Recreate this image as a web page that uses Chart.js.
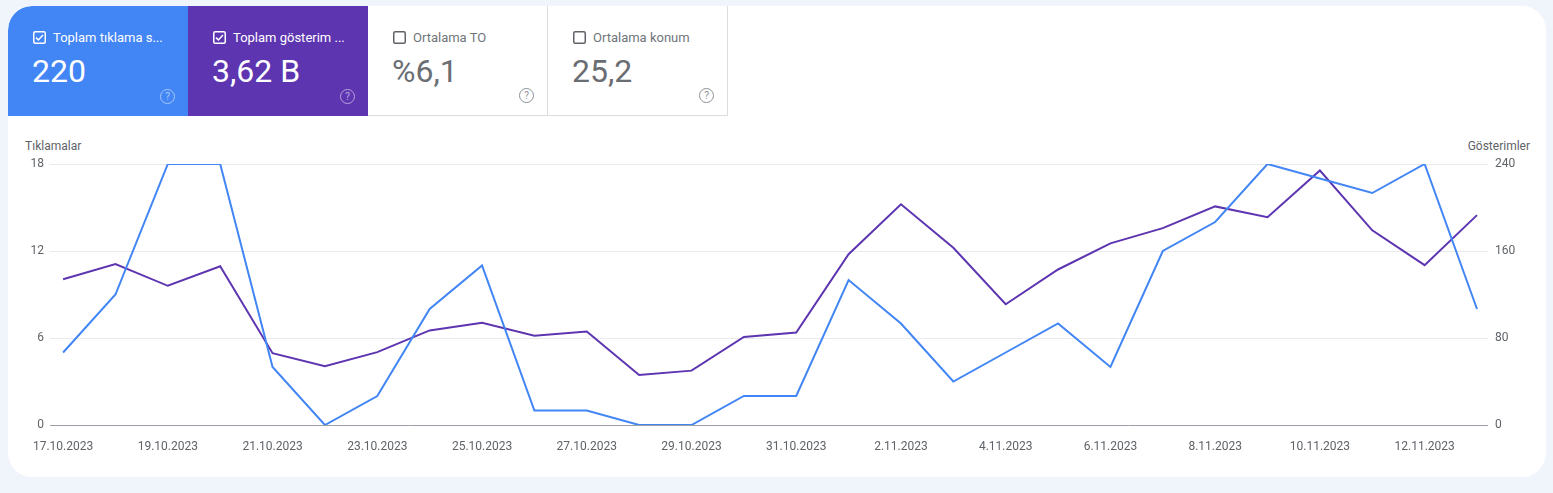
<!DOCTYPE html>
<html lang="tr">
<head>
<meta charset="utf-8">
<title>Performans</title>
<script src="https://cdn.jsdelivr.net/npm/chart.js@4.4.0/dist/chart.umd.min.js"></script>
<style>
  html, body { margin: 0; padding: 0; }
  body {
    width: 1553px; height: 493px; background: #f0f4fb;
    font-family: Roboto, "Noto Sans", sans-serif; position: relative; overflow: hidden;
  }
  .panel {
    position: absolute; left: 8px; top: 6px; width: 1538px; height: 471px;
    background: #fff; border-radius: 24px; overflow: hidden;
  }
  .card {
    position: absolute; top: 0; width: 180px; height: 110px; box-sizing: border-box;
  }
  .card .lbl {
    position: absolute; left: 25px; top: 24px; font-size: 13px; white-space: nowrap;
    display: flex; align-items: center;
  }
  .card .lbl svg { margin-right: 7px; }
  .card .val { position: absolute; left: 24px; top: 46px; font-size: 32px; }
  .card .help {
    position: absolute; right: 13px; bottom: 12px; width: 13px; height: 13px;
    border: 1.5px solid currentColor; border-radius: 50%; font-size: 10px;
    line-height: 13px; text-align: center; opacity: .55;
  }
  .c1 { left: 0; background: #4285f4; color: #fff; border-top-left-radius: 24px; }
  .c2 { left: 180px; background: #5e35b1; color: #fff; }
  .c3, .c4 { background: #fff; color: #70757a; border-right: 1px solid #dadce0; border-bottom: 1px solid #dadce0; }
  .c3 { left: 360px; }
  .c4 { left: 540px; }
  .c3 .val, .c4 .val { color: #6a6e73; }
  .c3 .help, .c4 .help { color: #80868b; opacity: .9; }
  .axt { position: absolute; top: 139px; font-size: 12px; color: #5f6368; }
  #wrap { position: absolute; left: 8px; top: 130px; width: 1538px; height: 340px; }
</style>
</head>
<body>
<div class="panel">
  <div class="card c1"><div class="lbl"><svg width="13" height="13" viewBox="0 0 13 13"><rect x="0.75" y="0.75" width="11.5" height="11.5" rx="1.5" fill="none" stroke="#fff" stroke-width="1.5"/><path d="M3 6.6 L5.4 9 L10 4" fill="none" stroke="#fff" stroke-width="1.5"/></svg>Toplam tıklama s...</div><div class="val">220</div><div class="help">?</div></div>
  <div class="card c2"><div class="lbl"><svg width="13" height="13" viewBox="0 0 13 13"><rect x="0.75" y="0.75" width="11.5" height="11.5" rx="1.5" fill="none" stroke="#fff" stroke-width="1.5"/><path d="M3 6.6 L5.4 9 L10 4" fill="none" stroke="#fff" stroke-width="1.5"/></svg>Toplam gösterim ...</div><div class="val">3,62 B</div><div class="help">?</div></div>
  <div class="card c3"><div class="lbl"><svg width="13" height="13" viewBox="0 0 13 13"><rect x="0.75" y="0.75" width="11.5" height="11.5" rx="1.5" fill="none" stroke="#5f6368" stroke-width="1.5"/></svg>Ortalama TO</div><div class="val">%6,1</div><div class="help">?</div></div>
  <div class="card c4"><div class="lbl"><svg width="13" height="13" viewBox="0 0 13 13"><rect x="0.75" y="0.75" width="11.5" height="11.5" rx="1.5" fill="none" stroke="#5f6368" stroke-width="1.5"/></svg>Ortalama konum</div><div class="val">25,2</div><div class="help">?</div></div>
</div>
<div class="axt" style="left:25px">Tıklamalar</div>
<div class="axt" style="right:23px">Gösterimler</div>
<div id="wrap"><canvas id="chart-perf"></canvas></div>

<script>
// tarihler (günlük)
const dates = ['17.10.2023', '18.10.2023', '19.10.2023', '20.10.2023', '21.10.2023', '22.10.2023', '23.10.2023',
  '24.10.2023', '25.10.2023', '26.10.2023', '27.10.2023', '28.10.2023', '29.10.2023', '30.10.2023',
  '31.10.2023', '1.11.2023', '2.11.2023', '3.11.2023', '4.11.2023', '5.11.2023', '6.11.2023',
  '7.11.2023', '8.11.2023', '9.11.2023', '10.11.2023', '11.11.2023', '12.11.2023', '13.11.2023'];

const clicks = [5, 9, 18, 18, 4, 0, 2, 8, 11, 1, 1, 0, 0, 2, 2, 10, 7, 3, 5, 7, 4, 12, 14, 18, 17, 16, 18, 8];

const impressions = [134, 148, 128, 146, 66, 54, 67, 87, 94, 82, 86, 46, 50, 81, 85, 157, 203, 163, 111, 143,
  167, 181, 201, 191, 234, 179, 147, 193];

const clickTicks = [0, 6, 12, 18];
const impTicks = [0, 80, 160, 240];
const dateTicks = [0, 2, 4, 6, 8, 10, 12, 14, 16, 18, 20, 22, 24, 26];

function toPoints(values) {
    return values.map((v, i) => ({ x: i, y: v }));
}

function createChart(id) {
    const ctx = document.getElementById(id);
    const tickFont = { family: 'Roboto', size: 12 };

    const config = {
        type: 'line',
        data: {
            datasets: [
                {
                    label: 'Tıklamalar',
                    data: toPoints(clicks),
                    borderColor: '#4285f4',
                    borderWidth: 2,
                    pointRadius: 0,
                    yAxisID: 'yClicks',
                    order: 1
                },
                {
                    label: 'Gösterimler',
                    data: toPoints(impressions),
                    borderColor: '#5e35b1',
                    borderWidth: 2,
                    pointRadius: 0,
                    yAxisID: 'yImp',
                    order: 2
                }
            ]
        },
        options: {
            responsive: true,
            maintainAspectRatio: false,
            animation: false,
            layout: { padding: { top: 34, bottom: 9, left: 0, right: 0 } },
            plugins: {
                legend: { display: false },
                tooltip: { enabled: false }
            },
            scales: {
                x: {
                    type: 'linear',
                    min: -0.25,
                    max: 27.21,
                    grid: { display: false, drawTicks: false },
                    border: { display: false },
                    afterBuildTicks: (scale) => { scale.ticks = dateTicks.map(v => ({ value: v })); },
                    afterFit: (scale) => { scale.height = 36; },
                    ticks: {
                        padding: 15,
                        maxRotation: 0,
                        autoSkip: false,
                        color: '#5f6368',
                        font: tickFont,
                        callback: (v) => dates[v]
                    }
                },
                yClicks: {
                    position: 'left',
                    min: 0,
                    max: 18,
                    afterBuildTicks: (scale) => { scale.ticks = clickTicks.map(v => ({ value: v })); },
                    afterFit: (scale) => { scale.width = 42; },
                    border: { display: false },
                    grid: {
                        drawTicks: false,
                        color: (c) => c.tick && c.tick.value === 0 ? '#9aa0a6' : '#e8eaed'
                    },
                    ticks: { padding: 6, color: '#5f6368', font: tickFont }
                },
                yImp: {
                    position: 'right',
                    min: 0,
                    max: 240,
                    afterBuildTicks: (scale) => { scale.ticks = impTicks.map(v => ({ value: v })); },
                    afterFit: (scale) => { scale.width = 58; },
                    border: { display: false },
                    grid: { display: false, drawTicks: false },
                    ticks: { padding: 7, color: '#5f6368', font: tickFont }
                }
            }
        }
    };

    new Chart(ctx, config);
}

document.addEventListener('DOMContentLoaded', () => {
    createChart('chart-perf');
});
</script>
</body>
</html>
